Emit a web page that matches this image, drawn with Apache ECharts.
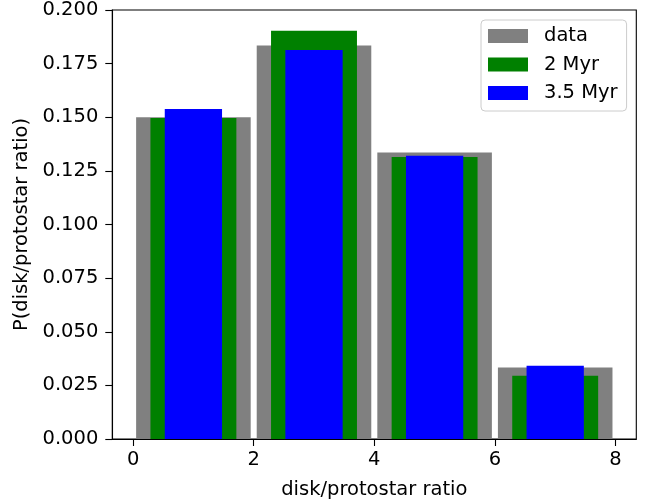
<!DOCTYPE html>
<html>
<head>
<meta charset="utf-8">
<script src="https://cdn.jsdelivr.net/npm/echarts@6/dist/echarts.min.js"></script>
<style>html,body{margin:0;padding:0;background:#fff}#c{width:651px;height:499px}</style>
</head>
<body>
<div id="c"></div>
<script>
const centers = [1, 3, 5, 7];
const dataVals = [0.1500, 0.1835, 0.1336, 0.0333];
const myr2Vals = [0.1497, 0.1903, 0.1315, 0.0295];
const myr35Vals = [0.1538, 0.1813, 0.1321, 0.0341];
const xTickVals = [0, 2, 4, 6, 8];

const FONT = 'DejaVu Sans';
const FS = 19.5;
function barSeries(name, vals, width, color) {
  return {
    type: 'custom',
    name: name,
    itemStyle: { color: color },
    data: centers.map((c, i) => [c, vals[i]]),
    encode: { x: 0, y: 1 },
    renderItem: function (params, api) {
      const x = api.value(0), y = api.value(1);
      const p0 = api.coord([x - width / 2, y]);
      const p1 = api.coord([x + width / 2, 0]);
      return {
        type: 'rect',
        shape: { x: p0[0], y: p0[1], width: p1[0] - p0[0], height: p1[1] - p0[1] },
        style: { fill: color }
      };
    }
  };
}

const chart = echarts.init(document.getElementById('c'), null, { renderer: 'canvas' });
chart.setOption({
  animation: false,
  backgroundColor: '#fff',
  textStyle: { fontFamily: FONT },
  grid: { left: 112.3, right: 14.7, top: 10, bottom: 60, containLabel: false, outerBoundsMode: 'none', show: true, borderColor: '#000', borderWidth: 1.1, backgroundColor: 'transparent' },
  legend: {
    data: [
      { name: 'data', icon: 'rect' },
      { name: '2 Myr', icon: 'rect' },
      { name: '3.5 Myr', icon: 'rect' }
    ],
    orient: 'vertical',
    left: 481, top: 20,
    itemWidth: 40, itemHeight: 14, itemGap: 8.5,
    padding: [6, 9, 8, 7],
    backgroundColor: '#fff',
    borderColor: '#cccccc', borderWidth: 1, borderRadius: 4,
    textStyle: { fontFamily: FONT, fontSize: FS, lineHeight: 20, color: '#000', padding: [0, 0, 0, 11] }
  },
  xAxis: {
    type: 'value', min: -0.345, max: 8.345,
    name: 'disk/protostar ratio', nameLocation: 'middle', nameGap: 41,
    nameTextStyle: { fontFamily: FONT, fontSize: FS, color: '#000' },
    axisLine: { show: true, onZero: false, lineStyle: { color: '#000', width: 1.1 } },
    axisTick: { show: true, length: 7, lineStyle: { color: '#000', width: 1.1 }, customValues: xTickVals },
    axisLabel: { fontFamily: FONT, fontSize: FS, color: '#000', margin: 11, customValues: xTickVals, showMinLabel: true, showMaxLabel: true },
    splitLine: { show: false }
  },
  yAxis: {
    type: 'value', min: 0, max: 0.2, interval: 0.025,
    name: 'P(disk/protostar ratio)', nameLocation: 'middle', nameGap: 75,
    nameTextStyle: { fontFamily: FONT, fontSize: FS, color: '#000' },
    axisLine: { show: true, onZero: false, lineStyle: { color: '#000', width: 1.1 } },
    axisTick: { show: true, length: 7, lineStyle: { color: '#000', width: 1.1 } },
    axisLabel: { fontFamily: FONT, fontSize: FS, color: '#000', margin: 14, formatter: v => v.toFixed(3) },
    splitLine: { show: false }
  },
  series: [
    barSeries('data', dataVals, 1.9, '#808080'),
    barSeries('2 Myr', myr2Vals, 1.425, '#008000'),
    barSeries('3.5 Myr', myr35Vals, 0.95, '#0000ff')
  ]
});
</script>
</body>
</html>
